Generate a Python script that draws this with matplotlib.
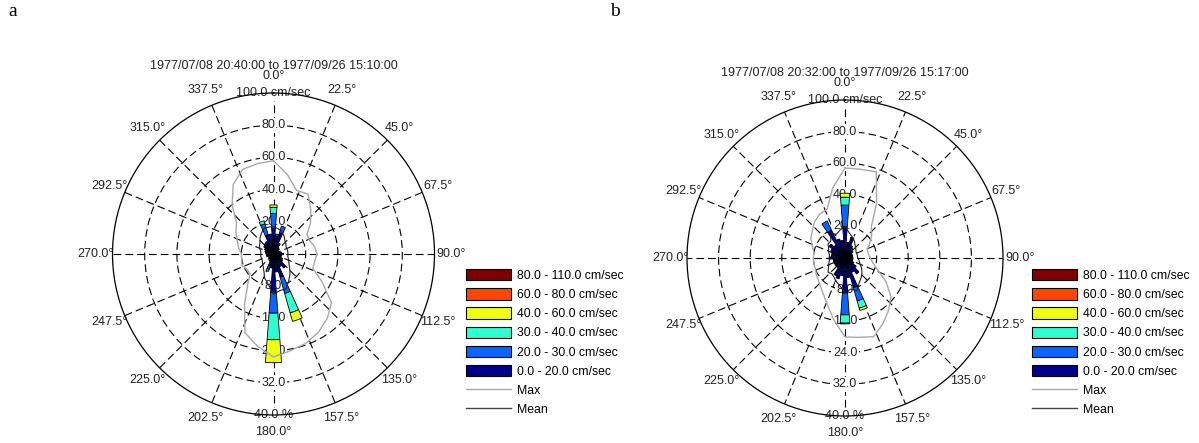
import numpy as np
import matplotlib.pyplot as plt
from matplotlib.patches import Patch
from matplotlib.lines import Line2D

plt.rcParams['font.family'] = ['Liberation Sans', 'DejaVu Sans']

# direction bins (deg, clockwise from north)
directions = [0, 10, 20, 30, 40, 50, 60, 70, 80, 90, 100, 110,
              120, 130, 140, 150, 160, 170, 180, 190, 200, 210, 220, 230,
              240, 250, 260, 270, 280, 290, 300, 310, 320, 330, 340, 350]

speed_classes = ['0.0 - 20.0 cm/sec', '20.0 - 30.0 cm/sec', '30.0 - 40.0 cm/sec',
                 '40.0 - 60.0 cm/sec', '60.0 - 80.0 cm/sec', '80.0 - 110.0 cm/sec']
class_colors = ['#00008C', '#0A64FF', '#2EFFD0', '#EEFF14', '#FF4500', '#800000']

speed_ticks = [20, 40, 60, 80, 100]      # cm/sec
pct_ticks = [8, 16, 24, 32, 40]          # percent
degree_ticks = [0.0, 22.5, 45.0, 67.5, 90.0, 112.5, 135.0, 157.5,
                180.0, 202.5, 225.0, 247.5, 270.0, 292.5, 315.0, 337.5]

# ---- panel a : percent of records per direction and speed class
a_title = '1977/07/08 20:40:00 to 1977/09/26 15:10:00'
a_0_20 = [6.4, 4.5, 5.5, 3.0, 2.0, 1.8, 1.5, 1.5, 2.0, 2.5, 2.0, 2.0,
          2.5, 2.8, 4.3, 3.5, 6.0, 4.5, 9.5, 3.5, 3.0, 2.0, 1.5, 1.5,
          1.2, 1.5, 1.8, 1.8, 2.0, 2.2, 2.5, 3.0, 3.3, 3.5, 5.0, 5.0]
a_20_30 = [3.7, 0.5, 1.7, 0, 0, 0, 0, 0, 0, 0, 0, 0,
           0, 0, 0, 0, 4.2, 0, 5.2, 0, 1.0, 0, 0, 0,
           0, 0, 0, 0, 0, 0, 0, 0, 0, 0, 2.8, 0]
a_30_40 = [1.5, 0, 0, 0, 0, 0, 0, 0, 0, 0, 0, 0,
           0, 0, 0, 0, 5.0, 0, 6.6, 0, 0.5, 0, 0, 0,
           0, 0, 0, 0, 0, 0, 0, 0, 0, 0, 0.8, 0]
a_40_60 = [0.6, 0, 0, 0, 0, 0, 0, 0, 0, 0, 0, 0,
           0, 0, 0, 0, 2.2, 0, 5.7, 0, 0, 0, 0, 0,
           0, 0, 0, 0, 0, 0, 0, 0, 0, 0, 0, 0]
a_60_80 = [0, 0, 0, 0, 0, 0, 0, 0, 0, 0, 0, 0,
           0, 0, 0, 0, 0, 0, 0, 0, 0, 0, 0, 0,
           0, 0, 0, 0, 0, 0, 0, 0, 0, 0, 0, 0]
a_80_110 = [0, 0, 0, 0, 0, 0, 0, 0, 0, 0, 0, 0,
            0, 0, 0, 0, 0, 0, 0, 0, 0, 0, 0, 0,
            0, 0, 0, 0, 0, 0, 0, 0, 0, 0, 0, 0]
a_max = [58, 50, 42, 43, 36, 30, 24, 24, 26, 27, 26, 26,
         35, 47, 52, 56, 59, 61, 64, 58, 52, 36, 25, 19,
         19, 21, 20, 20, 22, 24, 27, 30, 40, 50, 56, 57]
a_mean = [17, 16, 15, 13, 11, 10, 9, 9, 9, 9, 9, 10,
          11, 13, 16, 19, 23, 23, 25, 19, 16, 12, 10, 9,
          8, 8, 8, 8, 8, 9, 10, 11, 13, 15, 17, 17]

# ---- panel b
b_title = '1977/07/08 20:32:00 to 1977/09/26 15:17:00'
b_0_20 = [8.0, 4.0, 5.5, 3.5, 3.0, 2.5, 2.0, 2.0, 2.0, 2.0, 2.0, 2.0,
          2.5, 3.5, 5.0, 4.0, 7.8, 5.0, 8.9, 4.5, 5.5, 5.0, 3.0, 3.0,
          3.0, 3.0, 3.0, 4.0, 3.5, 3.5, 4.0, 5.0, 4.0, 7.8, 5.0, 4.5]
b_20_30 = [5.4, 0, 0, 0, 0, 0, 0, 0, 0, 0, 0, 0,
           0, 0, 0, 0, 3.5, 0, 5.5, 0, 0, 0, 0, 0,
           0, 0, 0, 0, 0, 0, 0, 0, 0, 2.6, 0, 0]
b_30_40 = [2.0, 0, 0, 0, 0, 0, 0, 0, 0, 0, 0, 0,
           0, 0, 0, 0, 1.9, 0, 2.1, 0, 0, 0, 0, 0,
           0, 0, 0, 0, 0, 0, 0, 0, 0, 0, 0, 0]
b_40_60 = [1.0, 0, 0, 0, 0, 0, 0, 0, 0, 0, 0, 0,
           0, 0, 0, 0, 0.6, 0, 0.2, 0, 0, 0, 0, 0,
           0, 0, 0, 0, 0, 0, 0, 0, 0, 0, 0, 0]
b_60_80 = [0, 0, 0, 0, 0, 0, 0, 0, 0, 0, 0, 0,
           0, 0, 0, 0, 0, 0, 0, 0, 0, 0, 0, 0,
           0, 0, 0, 0, 0, 0, 0, 0, 0, 0, 0, 0]
b_80_110 = [0, 0, 0, 0, 0, 0, 0, 0, 0, 0, 0, 0,
            0, 0, 0, 0, 0, 0, 0, 0, 0, 0, 0, 0,
            0, 0, 0, 0, 0, 0, 0, 0, 0, 0, 0, 0]
b_max = [57, 57, 58, 40, 26, 22, 18, 15, 15, 16, 18, 22,
         30, 38, 43, 48, 53, 51, 50, 40, 32, 27, 24, 22,
         21, 20, 20, 20, 20, 22, 25, 27, 30, 32, 33, 45]
b_mean = [20, 16, 14, 12, 10, 9, 8, 8, 8, 8, 9, 10,
          12, 14, 16, 18, 22, 20, 22, 18, 16, 14, 13, 14,
          12, 11, 10, 10, 10, 11, 12, 14, 14, 18, 16, 18]

DASH = (0, (7, 3.6))
FS = 9


def draw_rose(ax, title, classes, max_speed, mean_speed):
    theta = np.deg2rad(directions)
    ax.set_theta_zero_location('N')
    ax.set_theta_direction(-1)
    ax.set_ylim(0, pct_ticks[-1])
    ax.set_axisbelow(True)
    ax.set_xticks(np.deg2rad(degree_ticks))
    ax.set_yticks(pct_ticks[:-1])
    ax.set_xticklabels([])
    ax.set_yticklabels([])
    ax.grid(True, color='black', linestyle=DASH, linewidth=0.8)
    ax.spines['polar'].set_linewidth(0.9)

    # ring labels: speed on top, percent on bottom
    scale = pct_ticks[-1] / speed_ticks[-1]
    box = dict(boxstyle='square,pad=0.12', fc='white', ec='none')
    for s in speed_ticks:
        lab = f'{s:.1f} cm/sec' if s == speed_ticks[-1] else f'{s:.1f}'
        ax.text(0, s * scale, lab, ha='center', va='center', fontsize=FS,
                color='#222222', bbox=box, zorder=1)
    for p in pct_ticks:
        lab = f'{p:.1f} %' if p == pct_ticks[-1] else f'{p:.1f}'
        ax.text(np.pi, p, lab, ha='center', va='center', fontsize=FS,
                color='#222222', bbox=box, zorder=1)
    for d in degree_ticks:
        ax.text(np.deg2rad(d), pct_ticks[-1] * 1.105, f'{d:.1f}°',
                ha='center', va='center', fontsize=FS, color='#222222')

    # stacked bars
    bottom = np.zeros(len(directions))
    for vals, col in zip(classes, class_colors):
        vals = np.array(vals, dtype=float)
        keep = vals > 0
        if keep.any():
            ax.bar(theta[keep], vals[keep], width=np.deg2rad(8.5),
                   bottom=bottom[keep], color=col, edgecolor='black',
                   linewidth=0.6, zorder=2)
        bottom += vals

    # max / mean speed polygons
    th = np.append(theta, theta[0])
    mx = np.append(max_speed, max_speed[0]) * scale
    mn = np.append(mean_speed, mean_speed[0]) * scale
    ax.plot(th, mx, color='#A8A8A8', linewidth=1.0, zorder=3)
    ax.plot(th, mn, color='#222222', linewidth=0.8, zorder=3)

    ax.text(0.5, 1.085, title, transform=ax.transAxes, ha='center',
            va='center', fontsize=FS, color='#222222')


fig = plt.figure(figsize=(11.99, 4.43), dpi=100)
W, H = 1199, 443


def add_polar(cx, cy, r):
    return fig.add_axes([(cx - r) / W, (H - cy - r) / H, 2 * r / W, 2 * r / H],
                        projection='polar')


ax_a = add_polar(273.5, 254, 161)
ax_b = add_polar(845, 258, 158)

draw_rose(ax_a, a_title, [a_0_20, a_20_30, a_30_40, a_40_60, a_60_80, a_80_110],
          a_max, a_mean)
draw_rose(ax_b, b_title, [b_0_20, b_20_30, b_30_40, b_40_60, b_60_80, b_80_110],
          b_max, b_mean)

# legend handles (top row = fastest class)
handles = [Patch(facecolor=c, edgecolor='black', linewidth=0.8)
           for c in class_colors[::-1]]
handles += [Line2D([], [], color='#A8A8A8', linewidth=1.0),
            Line2D([], [], color='#444444', linewidth=1.0)]
labels = speed_classes[::-1] + ['Max', 'Mean']
for x0 in (466, 1032):
    fig.legend(handles, labels, loc='upper left',
               bbox_to_anchor=(x0 / W, 1 - 269 / H), frameon=False,
               fontsize=8.8, handlelength=3.7, handleheight=1.05,
               labelspacing=0.52, handletextpad=0.45, borderpad=0,
               borderaxespad=0)

fig.text(8 / W, 1 - 12 / H, 'a', fontsize=14, family='Liberation Serif',
         va='center', ha='left')
fig.text(610 / W, 1 - 12 / H, 'b', fontsize=14, family='Liberation Serif',
         va='center', ha='left')

fig.savefig('out.png', dpi=100)
